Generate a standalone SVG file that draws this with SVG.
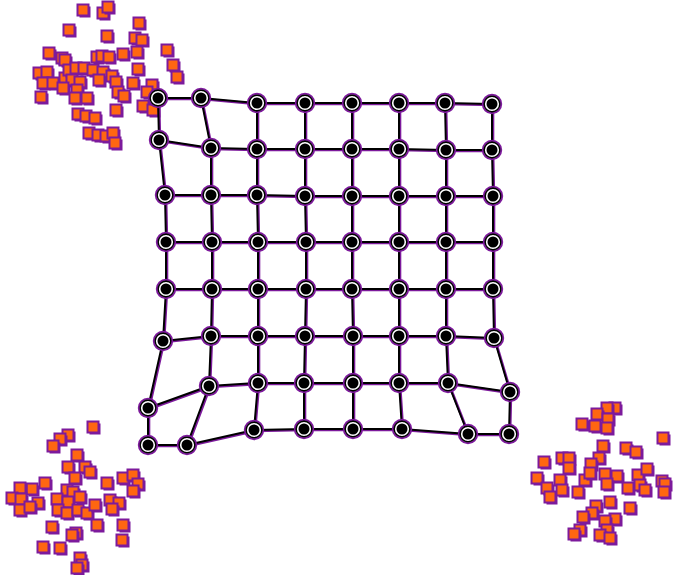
<svg xmlns="http://www.w3.org/2000/svg" xmlns:xlink="http://www.w3.org/1999/xlink" width="673" height="575" viewBox="0 0 673 575">
<style>
.sh{fill:none;stroke:#7d1a9c;stroke-width:2.6;stroke-linejoin:round}
.ln{fill:none;stroke:#000;stroke-width:2;stroke-linejoin:round}
</style>
<defs>
<g id="nd">
<circle r="9.2" fill="none" stroke="#7d1a9c" stroke-width="2"/>
<circle r="7.8" fill="#fff" stroke="#000" stroke-width="1.4"/>
<circle r="5.5" fill="#000"/>
</g>
<g id="sq">
<rect x="-3.5" y="-3.5" width="11" height="11" fill="#7d1a9c"/>
<rect x="-5.5" y="-5.5" width="11" height="11" fill="#ff6611" stroke="#7d1a9c" stroke-width="2"/>
</g>
</defs>
<rect width="673" height="575" fill="#fff"/>
<g id="clusters">
<use href="#sq" x="83" y="10"/><use href="#sq" x="103" y="13"/><use href="#sq" x="108" y="7"/><use href="#sq" x="69" y="30"/><use href="#sq" x="107" y="36"/><use href="#sq" x="139" y="23"/><use href="#sq" x="135" y="38"/><use href="#sq" x="142" y="40"/><use href="#sq" x="49" y="53"/><use href="#sq" x="62" y="58"/><use href="#sq" x="65" y="60"/><use href="#sq" x="97" y="57"/><use href="#sq" x="102" y="56"/><use href="#sq" x="109" y="57"/><use href="#sq" x="123" y="54"/><use href="#sq" x="137" y="52"/><use href="#sq" x="167" y="50"/><use href="#sq" x="173" y="65"/><use href="#sq" x="177" y="77"/><use href="#sq" x="39" y="73"/><use href="#sq" x="47" y="72"/><use href="#sq" x="43" y="83"/><use href="#sq" x="53" y="83"/><use href="#sq" x="65" y="78"/><use href="#sq" x="69" y="70"/><use href="#sq" x="76" y="68"/><use href="#sq" x="84" y="68"/><use href="#sq" x="93" y="70"/><use href="#sq" x="103" y="72"/><use href="#sq" x="112" y="76"/><use href="#sq" x="99" y="80"/><use href="#sq" x="72" y="80"/><use href="#sq" x="80" y="82"/><use href="#sq" x="63" y="88"/><use href="#sq" x="77" y="90"/><use href="#sq" x="75" y="98"/><use href="#sq" x="87" y="98"/><use href="#sq" x="41" y="97"/><use href="#sq" x="116" y="82"/><use href="#sq" x="118" y="92"/><use href="#sq" x="124" y="96"/><use href="#sq" x="133" y="83"/><use href="#sq" x="138" y="69"/><use href="#sq" x="152" y="85"/><use href="#sq" x="147" y="92"/><use href="#sq" x="143" y="106"/><use href="#sq" x="153" y="110"/><use href="#sq" x="116" y="110"/><use href="#sq" x="78" y="114"/><use href="#sq" x="86" y="116"/><use href="#sq" x="95" y="118"/><use href="#sq" x="89" y="133"/><use href="#sq" x="98" y="135"/><use href="#sq" x="106" y="136"/><use href="#sq" x="113" y="133"/><use href="#sq" x="115" y="143"/>
<use href="#sq" x="93" y="427"/><use href="#sq" x="68" y="435"/><use href="#sq" x="60" y="439"/><use href="#sq" x="53" y="446"/><use href="#sq" x="77" y="455"/><use href="#sq" x="68" y="467"/><use href="#sq" x="85" y="467"/><use href="#sq" x="90" y="472"/><use href="#sq" x="75" y="478"/><use href="#sq" x="107" y="483"/><use href="#sq" x="123" y="478"/><use href="#sq" x="133" y="475"/><use href="#sq" x="138" y="484"/><use href="#sq" x="133" y="491"/><use href="#sq" x="45" y="483"/><use href="#sq" x="32" y="489"/><use href="#sq" x="20" y="488"/><use href="#sq" x="12" y="498"/><use href="#sq" x="21" y="499"/><use href="#sq" x="38" y="503"/><use href="#sq" x="20" y="510"/><use href="#sq" x="30" y="507"/><use href="#sq" x="67" y="490"/><use href="#sq" x="73" y="492"/><use href="#sq" x="57" y="499"/><use href="#sq" x="68" y="502"/><use href="#sq" x="80" y="497"/><use href="#sq" x="58" y="510"/><use href="#sq" x="67" y="513"/><use href="#sq" x="78" y="510"/><use href="#sq" x="87" y="513"/><use href="#sq" x="95" y="505"/><use href="#sq" x="110" y="500"/><use href="#sq" x="119" y="503"/><use href="#sq" x="112" y="509"/><use href="#sq" x="97" y="525"/><use href="#sq" x="52" y="527"/><use href="#sq" x="76" y="533"/><use href="#sq" x="72" y="535"/><use href="#sq" x="123" y="525"/><use href="#sq" x="122" y="540"/><use href="#sq" x="43" y="547"/><use href="#sq" x="60" y="548"/><use href="#sq" x="80" y="558"/><use href="#sq" x="82" y="565"/><use href="#sq" x="77" y="568"/>
<use href="#sq" x="615" y="408"/><use href="#sq" x="607" y="408"/><use href="#sq" x="597" y="414"/><use href="#sq" x="608" y="419"/><use href="#sq" x="582" y="424"/><use href="#sq" x="595" y="426"/><use href="#sq" x="607" y="428"/><use href="#sq" x="663" y="438"/><use href="#sq" x="603" y="446"/><use href="#sq" x="626" y="448"/><use href="#sq" x="636" y="452"/><use href="#sq" x="599" y="458"/><use href="#sq" x="544" y="462"/><use href="#sq" x="562" y="458"/><use href="#sq" x="569" y="458"/><use href="#sq" x="569" y="468"/><use href="#sq" x="591" y="464"/><use href="#sq" x="537" y="478"/><use href="#sq" x="547" y="488"/><use href="#sq" x="550" y="497"/><use href="#sq" x="560" y="480"/><use href="#sq" x="562" y="490"/><use href="#sq" x="578" y="492"/><use href="#sq" x="585" y="480"/><use href="#sq" x="590" y="473"/><use href="#sq" x="605" y="474"/><use href="#sq" x="617" y="476"/><use href="#sq" x="607" y="484"/><use href="#sq" x="628" y="488"/><use href="#sq" x="638" y="475"/><use href="#sq" x="647" y="469"/><use href="#sq" x="640" y="485"/><use href="#sq" x="645" y="490"/><use href="#sq" x="662" y="481"/><use href="#sq" x="665" y="484"/><use href="#sq" x="664" y="492"/><use href="#sq" x="610" y="502"/><use href="#sq" x="630" y="508"/><use href="#sq" x="596" y="506"/><use href="#sq" x="592" y="513"/><use href="#sq" x="583" y="517"/><use href="#sq" x="615" y="519"/><use href="#sq" x="605" y="521"/><use href="#sq" x="607" y="530"/><use href="#sq" x="600" y="535"/><use href="#sq" x="610" y="538"/><use href="#sq" x="580" y="530"/><use href="#sq" x="574" y="534"/>
</g>
<g id="connectors">
<g transform="translate(1,1)" class="sh">
<path id="edges" d="M158 98L201 98L257 103L305 103L352 103L399 103L445 103L492 104M159 140L211 148L257 149L305 149L352 149L399 149L446 150L492 150M165 195L211 195L257 195L305 196L352 196L399 196L446 196L493 196M166 242L212 242L258 242L306 242L352 242L399 242L446 242L493 242M166 289L212 289L258 289L306 289L352 289L399 289L446 289L493 289M163 341L211 336L258 336L305 336L353 336L399 336L446 336L494 338M148 408L209 386L258 383L304 383L353 383L399 383L448 383L510 392M148 445L187 445L254 430L304 429L353 429L402 429L468 434L509 434M158 98L159 140L165 195L166 242L166 289L163 341L148 408L148 445M201 98L211 148L211 195L212 242L212 289L211 336L209 386L187 445M257 103L257 149L257 195L258 242L258 289L258 336L258 383L254 430M305 103L305 149L305 196L306 242L306 289L305 336L304 383L304 429M352 103L352 149L352 196L352 242L352 289L353 336L353 383L353 429M399 103L399 149L399 196L399 242L399 289L399 336L399 383L402 429M445 103L446 150L446 196L446 242L446 289L446 336L448 383L468 434M492 104L492 150L493 196L493 242L493 289L494 338L510 392L509 434"/>
</g>
<use href="#edges" class="ln"/>
</g>
<g id="nodes">
<g id="n00"><use href="#nd" x="158" y="98"/></g><g id="n01"><use href="#nd" x="201" y="98"/></g><g id="n02"><use href="#nd" x="257" y="103"/></g><g id="n03"><use href="#nd" x="305" y="103"/></g><g id="n04"><use href="#nd" x="352" y="103"/></g><g id="n05"><use href="#nd" x="399" y="103"/></g><g id="n06"><use href="#nd" x="445" y="103"/></g><g id="n07"><use href="#nd" x="492" y="104"/></g>
<g id="n10"><use href="#nd" x="159" y="140"/></g><g id="n11"><use href="#nd" x="211" y="148"/></g><g id="n12"><use href="#nd" x="257" y="149"/></g><g id="n13"><use href="#nd" x="305" y="149"/></g><g id="n14"><use href="#nd" x="352" y="149"/></g><g id="n15"><use href="#nd" x="399" y="149"/></g><g id="n16"><use href="#nd" x="446" y="150"/></g><g id="n17"><use href="#nd" x="492" y="150"/></g>
<g id="n20"><use href="#nd" x="165" y="195"/></g><g id="n21"><use href="#nd" x="211" y="195"/></g><g id="n22"><use href="#nd" x="257" y="195"/></g><g id="n23"><use href="#nd" x="305" y="196"/></g><g id="n24"><use href="#nd" x="352" y="196"/></g><g id="n25"><use href="#nd" x="399" y="196"/></g><g id="n26"><use href="#nd" x="446" y="196"/></g><g id="n27"><use href="#nd" x="493" y="196"/></g>
<g id="n30"><use href="#nd" x="166" y="242"/></g><g id="n31"><use href="#nd" x="212" y="242"/></g><g id="n32"><use href="#nd" x="258" y="242"/></g><g id="n33"><use href="#nd" x="306" y="242"/></g><g id="n34"><use href="#nd" x="352" y="242"/></g><g id="n35"><use href="#nd" x="399" y="242"/></g><g id="n36"><use href="#nd" x="446" y="242"/></g><g id="n37"><use href="#nd" x="493" y="242"/></g>
<g id="n40"><use href="#nd" x="166" y="289"/></g><g id="n41"><use href="#nd" x="212" y="289"/></g><g id="n42"><use href="#nd" x="258" y="289"/></g><g id="n43"><use href="#nd" x="306" y="289"/></g><g id="n44"><use href="#nd" x="352" y="289"/></g><g id="n45"><use href="#nd" x="399" y="289"/></g><g id="n46"><use href="#nd" x="446" y="289"/></g><g id="n47"><use href="#nd" x="493" y="289"/></g>
<g id="n50"><use href="#nd" x="163" y="341"/></g><g id="n51"><use href="#nd" x="211" y="336"/></g><g id="n52"><use href="#nd" x="258" y="336"/></g><g id="n53"><use href="#nd" x="305" y="336"/></g><g id="n54"><use href="#nd" x="353" y="336"/></g><g id="n55"><use href="#nd" x="399" y="336"/></g><g id="n56"><use href="#nd" x="446" y="336"/></g><g id="n57"><use href="#nd" x="494" y="338"/></g>
<g id="n60"><use href="#nd" x="148" y="408"/></g><g id="n61"><use href="#nd" x="209" y="386"/></g><g id="n62"><use href="#nd" x="258" y="383"/></g><g id="n63"><use href="#nd" x="304" y="383"/></g><g id="n64"><use href="#nd" x="353" y="383"/></g><g id="n65"><use href="#nd" x="399" y="383"/></g><g id="n66"><use href="#nd" x="448" y="383"/></g><g id="n67"><use href="#nd" x="510" y="392"/></g>
<g id="n70"><use href="#nd" x="148" y="445"/></g><g id="n71"><use href="#nd" x="187" y="445"/></g><g id="n72"><use href="#nd" x="254" y="430"/></g><g id="n73"><use href="#nd" x="304" y="429"/></g><g id="n74"><use href="#nd" x="353" y="429"/></g><g id="n75"><use href="#nd" x="402" y="429"/></g><g id="n76"><use href="#nd" x="468" y="434"/></g><g id="n77"><use href="#nd" x="509" y="434"/></g>
</g>
</svg>
